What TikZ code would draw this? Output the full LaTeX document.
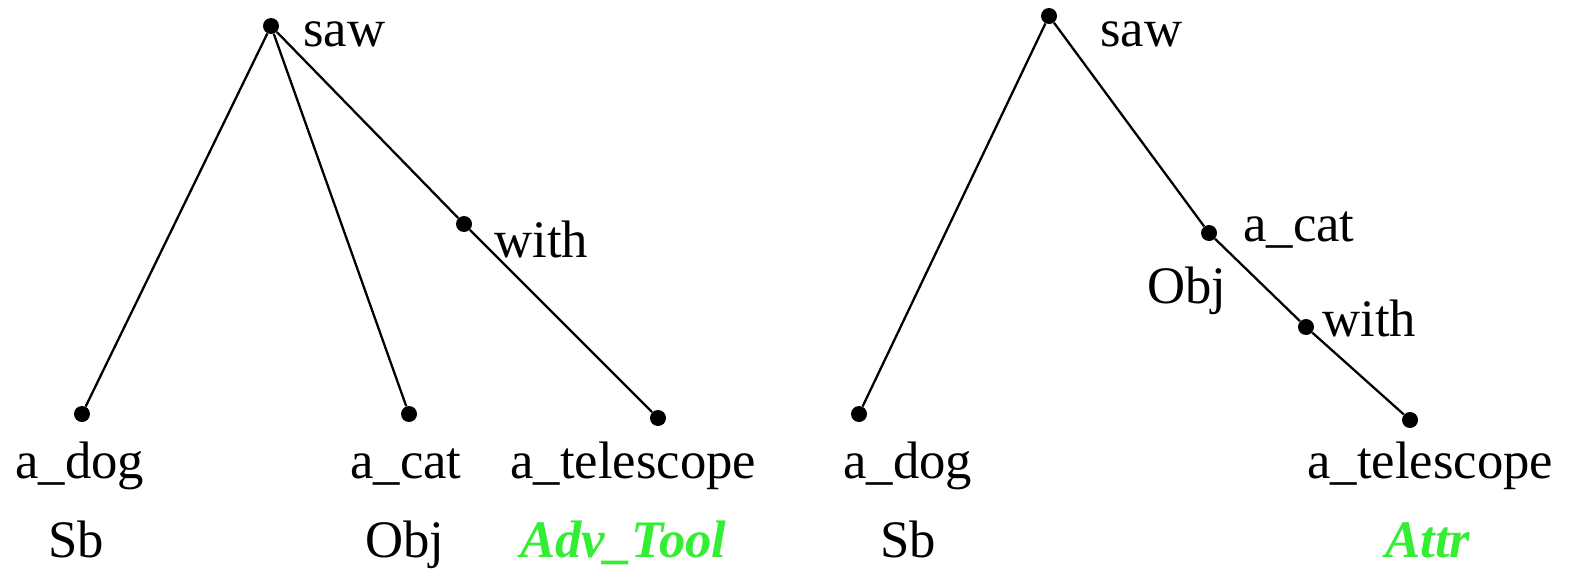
\documentclass[tikz,border=0pt]{standalone}
\usepackage{fontspec}
\setmainfont{Liberation Serif}
\newfontfamily\treefont{Liberation Serif}
\usetikzlibrary{positioning}
\definecolor{fngreen}{HTML}{33EE33}

\begin{document}
\begin{tikzpicture}[x=0.02cm, y=-0.02cm,
    dot/.style={circle, fill=black, inner sep=0pt, minimum size=0.32cm},
    edge/.style={line width=1.3pt},
    word/.style={anchor=base west, inner sep=0pt, font=\treefont\fontsize{30}{36}\selectfont},
    func/.style={word, text=fngreen, font=\treefont\fontsize{30}{36}\selectfont\bfseries\itshape}]
  \useasboundingbox (0,0) rectangle (1574,568);

  % left tree
  \node[dot] (saw1) at (271,26) {};
  \node[dot] (with1) at (464,224) {};
  \node[dot] (dog1) at (82,414) {};
  \node[dot] (cat1) at (409,414) {};
  \node[dot] (tel1) at (658,418) {};

  \node[word] (sawl1) at (303,46) {saw};
  \node[word] (withl1) at (494,257) {with};
  \node[word] (dogl1) at (15,478) {a\_dog};
  \node[word] (catl1) at (350,478) {a\_cat};
  \node[word] (tell1) at (510,478) {a\_telescope};
  \node[word] (sb1) at (48,557) {Sb};
  \node[word] (obj1) at (365,557) {Obj};
  \node[func] (adv1) at (520,557) {Adv\_Tool};

  \draw[edge] (saw1) -- (dog1);
  \draw[edge] (saw1) -- (cat1);
  \draw[edge] (saw1) -- (with1);
  \draw[edge] (with1) -- (tel1);

  % right tree
  \node[dot] (saw2) at (1049,16) {};
  \node[dot] (cat2) at (1209,233) {};
  \node[dot] (with2) at (1306,327) {};
  \node[dot] (dog2) at (859,414) {};
  \node[dot] (tel2) at (1410,420) {};

  \node[word] (sawl2) at (1100,46) {saw};
  \node[word] (catl2) at (1243,241) {a\_cat};
  \node[word] (obj2) at (1147,303) {Obj};
  \node[word] (withl2) at (1322,336) {with};
  \node[word] (dogl2) at (843,478) {a\_dog};
  \node[word] (tell2) at (1307,478) {a\_telescope};
  \node[word] (sb2) at (880,557) {Sb};
  \node[func] (attr2) at (1385,557) {Attr};

  \draw[edge] (saw2) -- (dog2);
  \draw[edge] (saw2) -- (cat2);
  \draw[edge] (cat2) -- (with2);
  \draw[edge] (with2) -- (tel2);
\end{tikzpicture}
\end{document}
